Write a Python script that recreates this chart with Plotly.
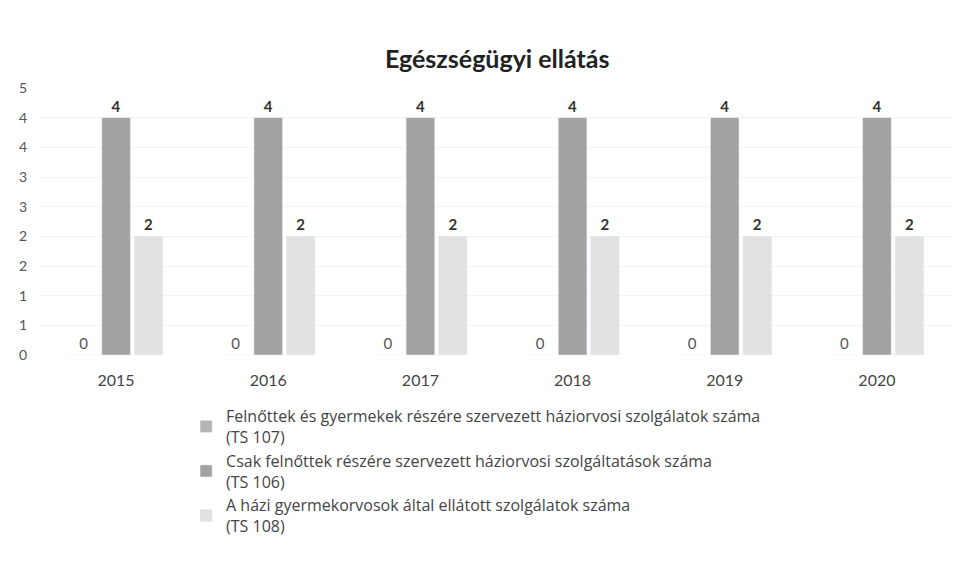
import plotly.graph_objects as go

years = ["2015", "2016", "2017", "2018", "2019", "2020"]
ts107 = [0, 0, 0, 0, 0, 0]
ts106 = [4, 4, 4, 4, 4, 4]
ts108 = [2, 2, 2, 2, 2, 2]
names = [
    "Felnőttek és gyermekek részére szervezett háziorvosi szolgálatok száma<br>(TS 107)",
    "Csak felnőttek részére szervezett háziorvosi szolgáltatások száma<br>(TS 106)",
    "A házi gyermekorvosok által ellátott szolgálatok száma<br>(TS 108)",
]
ytickvals = [0, 0.5, 1, 1.5, 2, 2.5, 3, 3.5, 4, 4.5]
yticktext = ["0", "1", "1", "2", "2", "3", "3", "4", "4", "5"]

FONT = "Lato, 'Open Sans', sans-serif"
colors = ["#b4b4b4", "#a2a2a2", "#e2e2e2"]

fig = go.Figure()
for vals, name, col, bold in zip([ts107, ts106, ts108], names, colors, [False, True, True]):
    fig.add_trace(go.Bar(
        x=years, y=vals, name=name, marker_color=col,
        text=[str(v) for v in vals], textposition="outside",
        textfont=dict(family=FONT, size=15, color="#333333" if bold else "#555555",
                      weight="bold" if bold else "normal"),
        cliponaxis=False,
    ))

fig.update_layout(
    width=965, height=564,
    paper_bgcolor="white", plot_bgcolor="white",
    margin=dict(l=32, r=20, t=80, b=217),
    barmode="group", bargap=0.36, bargroupgap=0.12,
    title=dict(text="<b>Egészségügyi ellátás</b>", x=0.507, xanchor="center",
               y=0.91, yanchor="middle",
               font=dict(family=FONT, size=25, color="#222222")),
    font=dict(family=FONT, size=14, color="#444444"),
    xaxis=dict(showline=False, ticks="", tickfont=dict(size=16, color="#444444"),
               showgrid=False, ticklabelstandoff=14),
    yaxis=dict(range=[0, 4.5], tickvals=ytickvals, ticktext=yticktext,
               showgrid=True, gridcolor="#f3f3f3", zeroline=False,
               tickfont=dict(size=14, color="#555555"), ticklabelstandoff=12),
    legend=dict(orientation="v", x=0.16, xanchor="left", y=-0.165, yanchor="top",
                font=dict(family="'Open Sans', sans-serif", size=16, color="#444444"),
                tracegroupgap=0, itemwidth=30),
)

fig.write_html("out.html")
